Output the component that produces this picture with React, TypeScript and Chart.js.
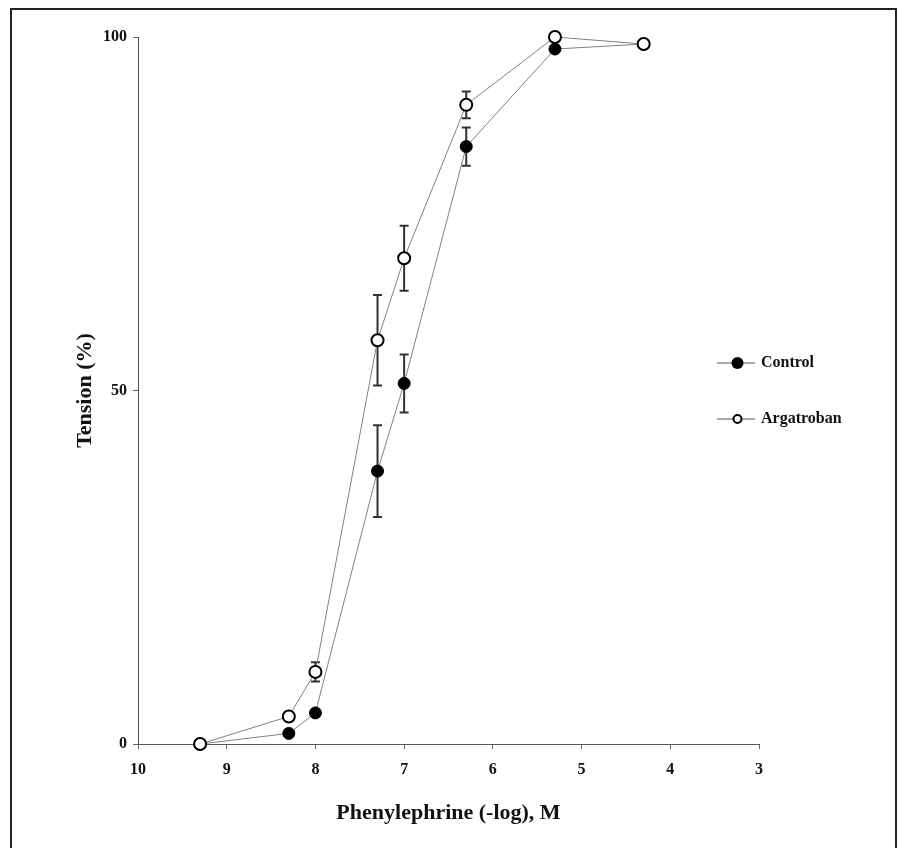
import React, { useEffect, useRef } from "react";
import { Chart, registerables } from "chart.js";

Chart.register(...registerables);

// Phenylephrine concentration (-log M)
const xValues = [9.3, 8.3, 8.0, 7.3, 7.0, 6.3, 5.3, 4.3];
// Tension (%)
const controlValues = [0, 1.5, 4.4, 38.6, 51.0, 84.5, 98.3, 99.0];
const controlErrors = [0, 0, 0, 6.5, 4.1, 2.7, 0, 0];
const argatrobanValues = [0, 3.9, 10.2, 57.1, 68.7, 90.4, 100, 99.0];
const argatrobanErrors = [0, 0, 1.35, 6.4, 4.6, 1.9, 0, 0];

const seriesNames = ["Control", "Argatroban"];
const xTitle = "Phenylephrine (-log), M";
const yTitle = "Tension (%)";

const FONT = "'Liberation Serif', 'Times New Roman', Times, serif";

export default function App() {
  const ref = useRef<HTMLCanvasElement>(null);

  useEffect(() => {
    document.documentElement.style.overflow = "hidden";
    const canvas = ref.current!;

    const errorBars = {
      id: "errorBars",
      beforeDatasetsDraw(chart: any) {
        const { ctx, scales } = chart;
        const xs = scales.x;
        const ys = scales.y;
        const sets = [
          { v: controlValues, e: controlErrors },
          { v: argatrobanValues, e: argatrobanErrors },
        ];
        ctx.save();
        ctx.strokeStyle = "#333";
        ctx.lineWidth = 2;
        sets.forEach((s) => {
          xValues.forEach((x, i) => {
            const err = s.e[i];
            if (!err) return;
            const px = xs.getPixelForValue(x);
            const top = ys.getPixelForValue(s.v[i] + err);
            const bot = ys.getPixelForValue(s.v[i] - err);
            ctx.beginPath();
            ctx.moveTo(px, top);
            ctx.lineTo(px, bot);
            ctx.moveTo(px - 4.5, top);
            ctx.lineTo(px + 4.5, top);
            ctx.moveTo(px - 4.5, bot);
            ctx.lineTo(px + 4.5, bot);
            ctx.stroke();
          });
        });
        ctx.restore();
      },
    };

    const customLegend = {
      id: "customLegend",
      afterDraw(chart: any) {
        const { ctx } = chart;
        const items = [
          { name: seriesNames[0], y: 355, filled: true, r: 6 },
          { name: seriesNames[1], y: 411, filled: false, r: 4 },
        ];
        ctx.save();
        items.forEach((it) => {
          ctx.strokeStyle = "#555";
          ctx.lineWidth = 1;
          ctx.beginPath();
          ctx.moveTo(709, it.y);
          ctx.lineTo(747, it.y);
          ctx.stroke();
          ctx.beginPath();
          ctx.arc(729.5, it.y, it.r, 0, Math.PI * 2);
          if (it.filled) {
            ctx.fillStyle = "#000";
            ctx.fill();
          } else {
            ctx.fillStyle = "#fff";
            ctx.fill();
            ctx.lineWidth = 2;
            ctx.strokeStyle = "#000";
            ctx.stroke();
          }
          ctx.fillStyle = "#111";
          ctx.font = `bold 16px ${FONT}`;
          ctx.textAlign = "left";
          ctx.textBaseline = "middle";
          ctx.fillText(it.name, 753, it.y);
        });
        ctx.restore();
      },
    };

    const chart = new Chart(canvas, {
      type: "line",
      data: {
        datasets: [
          {
            label: seriesNames[1],
            data: xValues.map((x, i) => ({ x, y: argatrobanValues[i] })),
            borderColor: "#808080",
            borderWidth: 1,
            pointRadius: 6,
            pointBorderWidth: 2,
            pointBackgroundColor: "#fff",
            pointBorderColor: "#000",
            fill: false,
            tension: 0,
            clip: false,
            order: 0,
          },
          {
            label: seriesNames[0],
            data: xValues.map((x, i) => ({ x, y: controlValues[i] })),
            borderColor: "#808080",
            borderWidth: 1,
            pointRadius: 6,
            pointBorderWidth: 1,
            pointBackgroundColor: "#000",
            pointBorderColor: "#000",
            fill: false,
            tension: 0,
            clip: false,
            order: 1,
          },
        ],
      },
      options: {
        responsive: false,
        animation: false,
        devicePixelRatio: 1,
        layout: { padding: { top: 29, right: 138, bottom: 0, left: 0 } },
        plugins: {
          legend: { display: false },
          tooltip: { enabled: false },
        },
        scales: {
          x: {
            type: "linear",
            reverse: true,
            min: 3,
            max: 10,
            afterFit: (s: any) => {
              s.height = 104;
            },
            ticks: {
              stepSize: 1,
              color: "#111",
              padding: 11,
              font: { family: FONT, size: 16, weight: "bold" },
            },
            grid: { drawOnChartArea: false, drawTicks: true, tickLength: 5, color: "#666" },
            border: { color: "#555", width: 1 },
            title: {
              display: true,
              text: xTitle,
              color: "#111",
              font: { family: FONT, size: 22, weight: "bold" },
              padding: { top: 0, bottom: 21.5 },
            },
          },
          y: {
            type: "linear",
            min: 0,
            max: 100,
            afterFit: (s: any) => {
              s.width = 130;
            },
            ticks: {
              stepSize: 50,
              color: "#111",
              padding: 6,
              font: { family: FONT, size: 16, weight: "bold" },
            },
            grid: { drawOnChartArea: false, drawTicks: true, tickLength: 5, color: "#666" },
            border: { color: "#555", width: 1 },
            title: {
              display: true,
              text: yTitle,
              color: "#111",
              font: { family: FONT, size: 22, weight: "bold" },
              padding: { top: 64, bottom: 0 },
            },
          },
        },
      },
      plugins: [errorBars, customLegend],
    } as any);

    return () => chart.destroy();
  }, []);

  return (
    <div style={{ position: "relative", width: 889, height: 840 }}>
      <canvas
        ref={ref}
        width={889}
        height={840}
        style={{ position: "absolute", left: 0, top: 0, width: 889, height: 840 }}
      />
      <div
        style={{
          position: "absolute",
          left: 2,
          top: 0,
          width: 887,
          height: 842,
          border: "2px solid #222",
          boxSizing: "border-box",
          pointerEvents: "none",
        }}
      />
    </div>
  );
}
